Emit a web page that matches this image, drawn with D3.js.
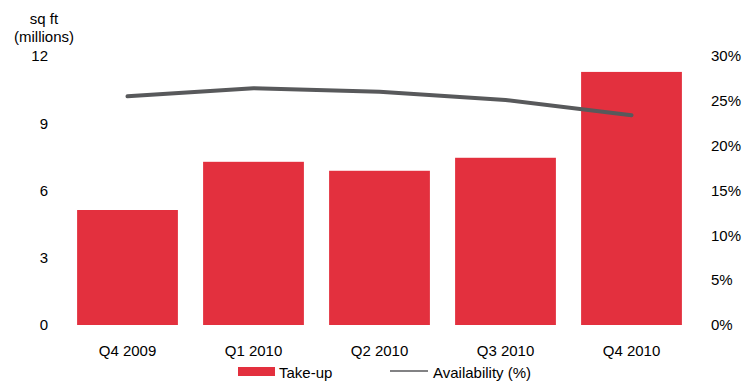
<!DOCTYPE html>
<html><head><meta charset="utf-8">
<script src="https://cdn.jsdelivr.net/npm/d3@7"></script>
<style>body{margin:0;background:#fff}svg{display:block;font-family:"Liberation Sans",Arial,sans-serif}</style>
</head><body><svg id="c" width="745" height="381"></svg>
<script>
const categories = ["Q4 2009","Q1 2010","Q2 2010","Q3 2010","Q4 2010"];
const takeUp = [5.13, 7.28, 6.88, 7.46, 11.29];
const availability = [25.5, 26.4, 26.0, 25.1, 23.4];
const leftTicks = [0,3,6,9,12];
const rightTicks = [0,5,10,15,20,25,30];

const svg = d3.select("#c");
const x = d3.scaleBand().domain(categories).range([64.5,694.5]).paddingInner(0.2).paddingOuter(0.1);
const yL = d3.scaleLinear().domain([0,12]).range([325,56]);
const yR = d3.scaleLinear().domain([0,30]).range([325,56]);
const red = "#e3303e", grey = "#58595b";

svg.selectAll("rect.bar").data(categories).join("rect").attr("class","bar")
  .attr("x",d=>x(d)).attr("width",x.bandwidth())
  .attr("y",(d,i)=>yL(takeUp[i])).attr("height",(d,i)=>yL(0)-yL(takeUp[i]))
  .attr("fill",red);

const line = d3.line().x((d,i)=>x(categories[i])+x.bandwidth()/2).y(d=>yR(d));
svg.append("path").datum(availability).attr("d",line).attr("fill","none")
  .attr("stroke",grey).attr("stroke-width",4).attr("stroke-linecap","round").attr("stroke-linejoin","round");

const fs = 15;
const ff = "Liberation Sans, Arial";
const axL = svg.append("g").attr("transform","translate(48,0)")
  .call(d3.axisLeft(yL).tickValues(leftTicks).tickSize(0).tickPadding(0));
axL.select(".domain").remove();
axL.selectAll("text").attr("font-size",fs).attr("font-family",ff).attr("fill","#000");

const axR = svg.append("g").attr("transform","translate(711,0)")
  .call(d3.axisRight(yR).tickValues(rightTicks).tickFormat(d=>d+"%").tickSize(0).tickPadding(0));
axR.select(".domain").remove();
axR.selectAll("text").attr("font-size",fs).attr("font-family",ff).attr("fill","#000");

const axB = svg.append("g").attr("transform","translate(0,325)")
  .call(d3.axisBottom(x).tickSize(0).tickPadding(20));
axB.select(".domain").remove();
axB.selectAll("text").attr("font-size",fs).attr("font-family",ff).attr("fill","#000");

svg.append("text").attr("x",44).attr("y",24).attr("text-anchor","middle").attr("font-size",fs).text("sq ft");
svg.append("text").attr("x",44).attr("y",42).attr("text-anchor","middle").attr("font-size",fs).text("(millions)");

// legend
svg.append("rect").attr("x",238).attr("y",367).attr("width",37).attr("height",9).attr("fill",red);
svg.append("text").attr("x",279).attr("y",378).attr("font-size",fs).text("Take-up");
svg.append("line").attr("x1",390).attr("x2",428).attr("y1",371).attr("y2",371).attr("stroke",grey).attr("stroke-width",1.5);
svg.append("text").attr("x",433).attr("y",378).attr("font-size",fs).text("Availability (%)");
</script></body></html>
